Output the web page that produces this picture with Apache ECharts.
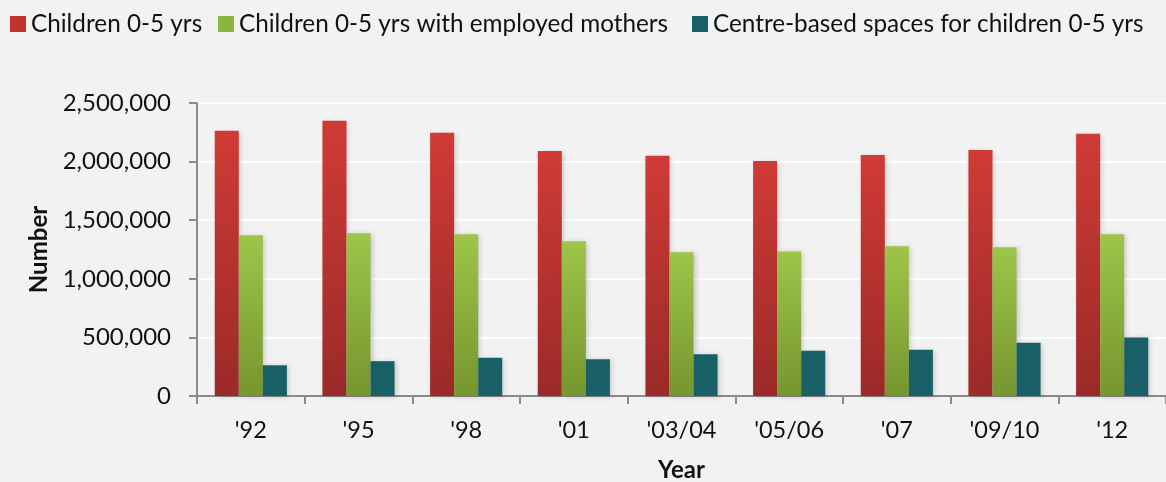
<!DOCTYPE html>
<html>
<head>
<meta charset="utf-8">
<script src="https://cdn.jsdelivr.net/npm/echarts@6/dist/echarts.min.js"></script>
<style>
html,body{margin:0;padding:0;background:#F2F2F2;}
#c{width:1166px;height:482px;}
</style>
</head>
<body>
<div id="c"></div>
<script>
const categories = ["'92", "'95", "'98", "'01", "'03/04", "'05/06", "'07", "'09/10", "'12"];
const children = [2263000, 2349000, 2246000, 2091000, 2049000, 2006000, 2057000, 2100000, 2237000];
const childrenEmployedMothers = [1371000, 1389000, 1380000, 1320000, 1226000, 1234000, 1277000, 1269000, 1380000];
const centreSpaces = [262000, 297000, 326000, 314000, 357000, 386000, 394000, 454000, 500000];
const seriesNames = ["Children 0-5 yrs", "Children 0-5 yrs with employed mothers", "Centre-based spaces for children 0-5 yrs"];
const yTicks = [0, 500000, 1000000, 1500000, 2000000, 2500000];

const FONT = 'Lato, "Liberation Sans", sans-serif';
function grad(top, bottom){
  return new echarts.graphic.LinearGradient(0,0,0,1,[{offset:0,color:top},{offset:1,color:bottom}]);
}
const shadow = {shadowBlur:5, shadowColor:'rgba(0,0,0,0.18)', shadowOffsetX:2, shadowOffsetY:1};
const colors = [grad('#D03B36','#9A2A28'), grad('#9DC549','#76962F'), '#185F66'];
const legendIconColors = ['#C0342F','#8DB43E','#185F66'];

const chart = echarts.init(document.getElementById('c'));
const legendLefts = [5, 213, 687];
chart.setOption({
  backgroundColor:'#F2F2F2',
  animation:false,
  legend: seriesNames.map((n,i)=>({
    data:[{name:n, itemStyle:{color:legendIconColors[i]}}],
    left:legendLefts[i], top:7,
    itemWidth:16, itemHeight:16, itemGap:6,
    icon:'rect',
    textStyle:{fontFamily:FONT, fontSize:24.3, color:'#111'}
  })),
  grid:{left:197, right:0, top:103, bottom:86, containLabel:false, outerBoundsMode:'none'},
  xAxis:{
    type:'category', data:categories,
    name:'Year', nameLocation:'middle', nameGap:62,
    nameTextStyle:{fontFamily:FONT, fontSize:24, fontWeight:'bold', color:'#111'},
    axisLine:{lineStyle:{color:'#8C8C8C', width:2}},
    axisTick:{show:true, length:8, lineStyle:{color:'#8C8C8C', width:2}},
    axisLabel:{fontFamily:FONT, fontSize:23.5, color:'#111', margin:22}
  },
  yAxis:{
    type:'value', min:0, max:2500000, interval:500000,
    name:'Number', nameLocation:'middle', nameGap:146, nameRotate:90,
    nameTextStyle:{fontFamily:FONT, fontSize:24, fontWeight:'bold', color:'#111'},
    axisLine:{show:true, lineStyle:{color:'#8C8C8C', width:2}},
    axisTick:{show:true, length:8, lineStyle:{color:'#8C8C8C', width:2}},
    splitLine:{lineStyle:{color:'#FFFFFF', width:2}},
    axisLabel:{fontFamily:FONT, fontSize:24, color:'#111', margin:26,
      formatter:v=>v.toLocaleString('en-US')}
  },
  series:[
    {name:seriesNames[0], type:'bar', data:children, barGap:'0%', barCategoryGap:'33%',
      itemStyle:Object.assign({color:colors[0]}, shadow)},
    {name:seriesNames[1], type:'bar', data:childrenEmployedMothers,
      itemStyle:Object.assign({color:colors[1]}, shadow)},
    {name:seriesNames[2], type:'bar', data:centreSpaces,
      itemStyle:Object.assign({color:colors[2]}, shadow)}
  ]
});
</script>
</body>
</html>
